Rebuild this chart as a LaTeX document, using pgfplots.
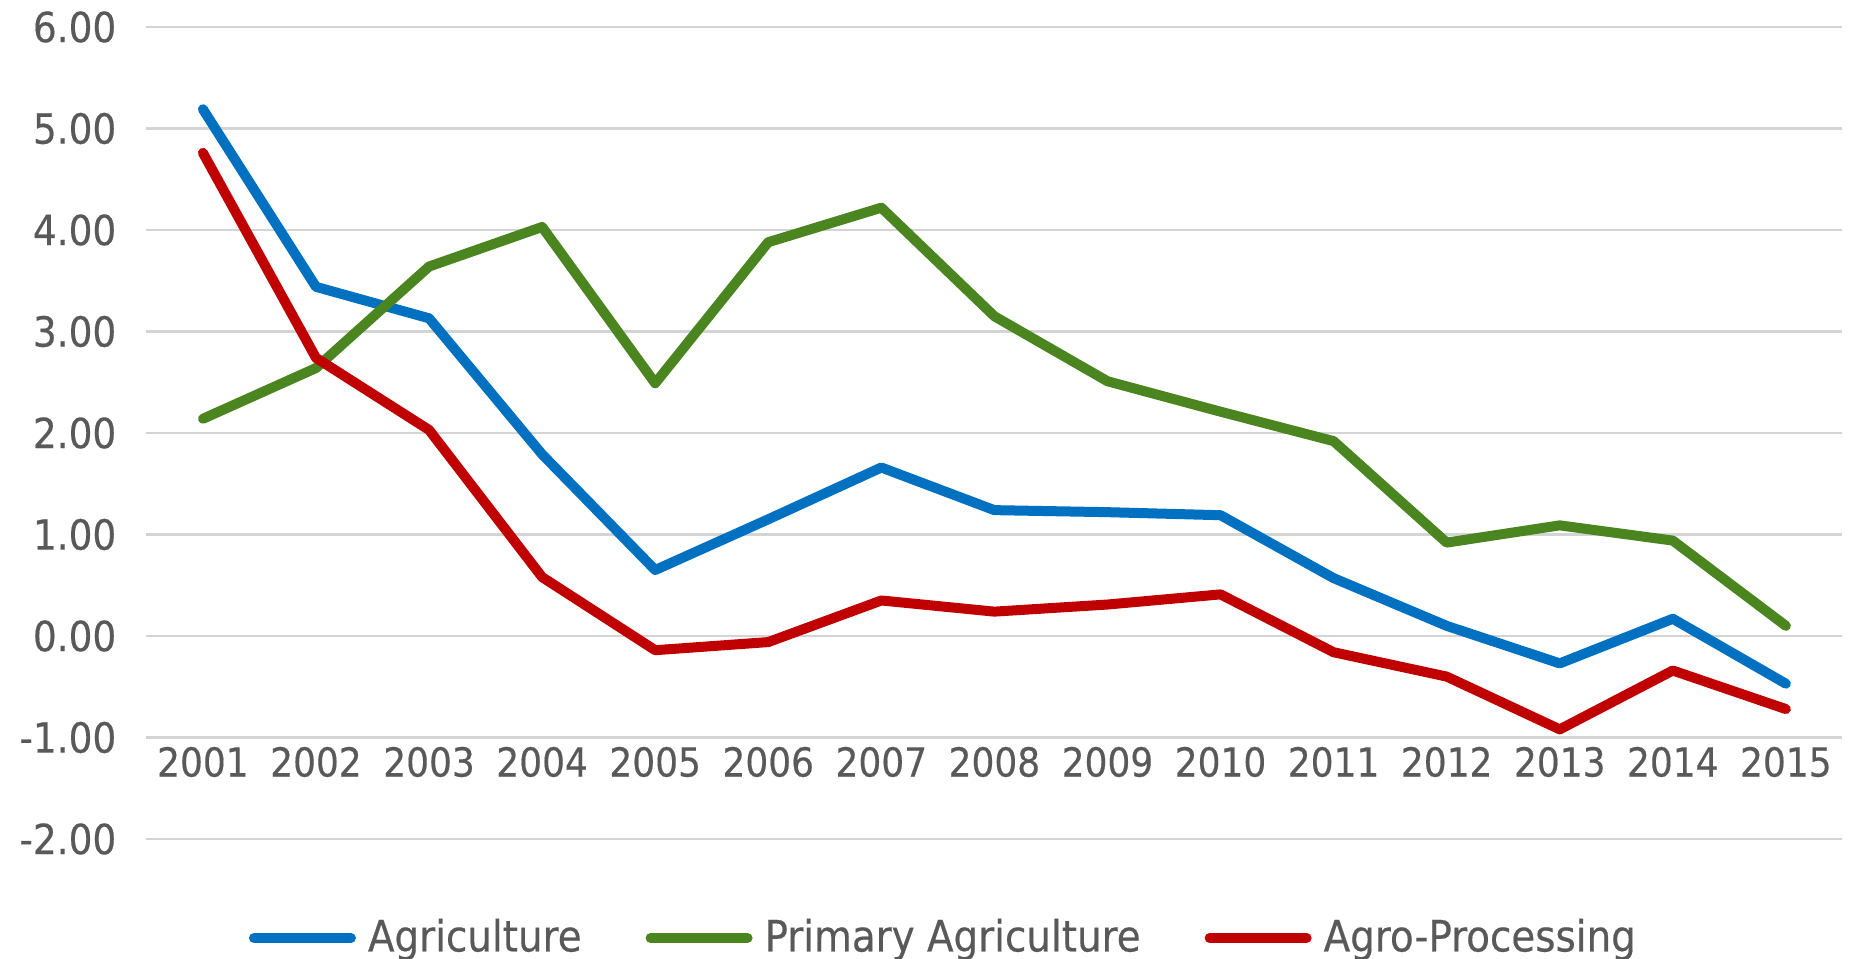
\documentclass[border=0pt]{standalone}
\usepackage{pgfplots}
\pgfplotsset{compat=1.18}
\usepackage{fontspec}
\setmainfont[FakeBold=0.4]{DejaVu Sans Condensed}

\definecolor{agriblue}{HTML}{0070C0}
\definecolor{primgreen}{HTML}{4A8520}
\definecolor{agrored}{HTML}{C00000}
\definecolor{labelgray}{HTML}{595959}
\definecolor{gridgray}{HTML}{D4D4D4}

% Growth rates (%) by year index 0 = 2001 ... 14 = 2015
\pgfplotstableread{
x  agri   prim   agro
0  5.19   2.14   4.76
1  3.44   2.64   2.74
2  3.13   3.64   2.03
3  1.79   4.03   0.58
4  0.65   2.49  -0.14
5  1.15   3.88  -0.06
6  1.66   4.22   0.35
7  1.24   3.15   0.24
8  1.22   2.51   0.31
9  1.19   2.21   0.41
10 0.57   1.92  -0.16
11 0.10   0.92  -0.40
12 -0.27  1.09  -0.92
13 0.17   0.94  -0.34
14 -0.47  0.10  -0.72
}\growth

\begin{document}
\begin{tikzpicture}
\begin{axis}[
  scale only axis,
  width=424pt, height=203pt,
  xmin=-0.5, xmax=14.5,
  ymin=-2, ymax=6,
  axis line style={draw=none},
  major tick length=0pt,
  xtick={0,...,14},
  xticklabels={2001,2002,2003,2004,2005,2006,2007,2008,2009,2010,2011,2012,2013,2014,2015},
  ytick={-2,-1,0,1,2,3,4,5,6},
  yticklabels={-2.00,-1.00,0.00,1.00,2.00,3.00,4.00,5.00,6.00},
  ymajorgrids,
  major grid style={draw=gridgray, line width=0.6pt},
  tick label style={font=\fontsize{10}{12}\selectfont, text=labelgray},
  xticklabel style={anchor=center, yshift=19.25pt},
  yticklabel style={anchor=east, xshift=-4pt, font=\fontsize{10.4}{12}\selectfont},
  legend columns=3,
  legend style={draw=none, fill=none, font=\fontsize{10.8}{12}\selectfont, text=labelgray,
    at={(axis description cs:0.0600,-0.122)}, anchor=west, inner sep=0pt,
    /tikz/every odd column/.append style={column sep=1pt},
    /tikz/every even column/.append style={column sep=14pt}},
  legend image code/.code={\draw[#1, line cap=round] (1.25pt,0pt) -- (25.5pt,0pt);},
  every axis plot/.append style={line width=2.5pt, line join=round, line cap=round, mark=none},
]
\addplot[agriblue] table[x=x, y=agri] {\growth};
\addlegendentry{Agriculture}
\addplot[primgreen] table[x=x, y=prim] {\growth};
\addlegendentry{Primary Agriculture}
\addplot[agrored] table[x=x, y=agro] {\growth};
\addlegendentry{Agro-Processing}
\end{axis}
\pgfresetboundingbox
\path (-36.6pt,-30pt) rectangle (425.9pt,209.75pt);
\end{tikzpicture}
\end{document}
